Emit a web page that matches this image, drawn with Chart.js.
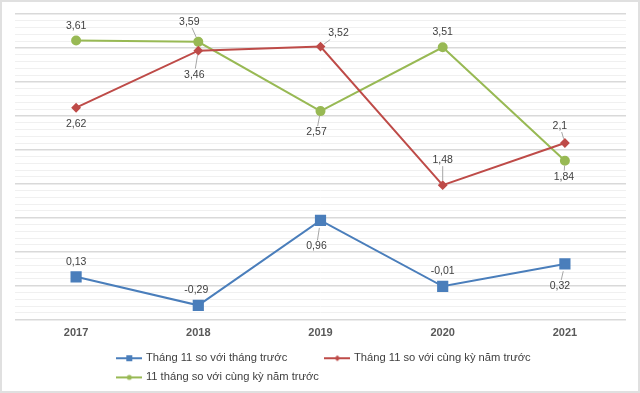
<!DOCTYPE html>
<html>
<head>
<meta charset="utf-8">
<script src="https://cdn.jsdelivr.net/npm/chart.js@4/dist/chart.umd.min.js"></script>
<style>
  html, body { margin: 0; padding: 0; background: #ffffff; }
  #wrap { width: 636px; height: 389px; border: 2px solid #e0e0e0; position: relative; }
</style>
</head>
<body>
<div id="wrap"><canvas id="chart"></canvas></div>
<script>
var years = ['2017', '2018', '2019', '2020', '2021'];
var seriesNames = ['Tháng 11 so với tháng trước', 'Tháng 11 so với cùng kỳ năm trước', '11 tháng so với cùng kỳ năm trước'];
var thangTruoc = [0.13, -0.29, 0.96, -0.01, 0.32];
var cungKyThang11 = [2.62, 3.46, 3.52, 1.48, 2.1];
var cungKy11Thang = [3.61, 3.59, 2.57, 3.51, 1.84];

// label placement relative to the point [dx, dy, leader line?]
var blueLabelPos = [[0, -15, 0], [-2, -15, 0], [-4, 26, 1], [0, -15, 0], [-5, 22, 1]];
var redLabelPos = [[0, 16, 0], [-4, 24, 1], [18, -13, 1], [0, -25, 1], [-5, -17, 1]];
var greenLabelPos = [[0, -14, 0], [-9, -20, 1], [-4, 21, 1], [0, -15, 0], [-1, 16, 1]];

var colors = ['#4a7ebb', '#be4b48', '#98b954'];
var fontFamily = '"Liberation Sans", Arial, sans-serif';
Chart.defaults.font.family = fontFamily;

// small line + marker icons for the legend
function makeIcon(color, shape) {
  var c = document.createElement('canvas');
  c.width = 26;
  c.height = 10;
  var g = c.getContext('2d');
  g.strokeStyle = color;
  g.fillStyle = color;
  g.lineWidth = 2;
  g.beginPath();
  g.moveTo(0, 5);
  g.lineTo(26, 5);
  g.stroke();
  g.beginPath();
  if (shape === 'rect') {
    g.rect(10, 2, 6, 6);
  } else if (shape === 'diamond') {
    g.moveTo(13, 2); g.lineTo(16, 5); g.lineTo(13, 8); g.lineTo(10, 5); g.closePath();
  } else {
    g.arc(13, 5, 2.5, 0, Math.PI * 2);
  }
  g.fill();
  return c;
}
var legendIcons = [makeIcon(colors[0], 'rect'), makeIcon(colors[1], 'diamond'), makeIcon(colors[2], 'circle')];
var legendSpacing = ['          ', '', '      '];

function isMajor(v) {
  return Math.abs(v * 2 - Math.round(v * 2)) < 1e-6;
}

function fmt(v) {
  return String(v).replace('.', ',');
}

var valueLabels = {
  id: 'valueLabels',
  afterDatasetsDraw: function (chart) {
    var ctx = chart.ctx;
    ctx.save();
    ctx.font = '10.5px ' + fontFamily;
    ctx.textAlign = 'center';
    ctx.textBaseline = 'middle';
    chart.data.datasets.forEach(function (ds, i) {
      var meta = chart.getDatasetMeta(i);
      meta.data.forEach(function (pt, j) {
        var text = fmt(ds.data[j]);
        var pos = ds.labelPos[j];
        var lx = pt.x + pos[0], ly = pt.y + pos[1];
        ctx.fillStyle = '#404040';
        ctx.fillText(text, lx, ly);
        if (pos[2]) {
          var vx = pt.x - lx, vy = pt.y - ly;
          var len = Math.sqrt(vx * vx + vy * vy);
          var hw = ctx.measureText(text).width / 2 + 1, hh = 6;
          var t0 = Math.min(vx ? hw / Math.abs(vx) : 1, vy ? hh / Math.abs(vy) : 1);
          var t1 = 1 - (ds.pointRadius + 1) / len;
          if (t1 > t0) {
            ctx.strokeStyle = '#a6a6a6';
            ctx.lineWidth = 1;
            ctx.beginPath();
            ctx.moveTo(lx + vx * t0, ly + vy * t0);
            ctx.lineTo(lx + vx * t1, ly + vy * t1);
            ctx.stroke();
          }
        }
      });
    });
    ctx.restore();
  }
};

// keep legend rows left aligned with each other (and nudge them right a bit)
var legendRows = {
  id: 'legendRows',
  beforeDraw: function (chart) {
    var lw = chart.legend && chart.legend.lineWidths;
    if (lw && lw.length) {
      var first = chart.legend._rowWidth || lw[0];
      chart.legend._rowWidth = first;
      for (var k = 0; k < lw.length; k++) lw[k] = first - 8;
    }
  },
  afterUpdate: function (chart) {
    if (chart.legend) chart.legend._rowWidth = null;
  }
};

new Chart(document.getElementById('chart'), {
  type: 'line',
  data: {
    labels: years,
    datasets: [{
      label: seriesNames[0],
      data: thangTruoc,
      borderColor: colors[0],
      backgroundColor: colors[0],
      borderWidth: 2,
      pointStyle: 'rect',
      pointRadius: 6.5,
      pointHoverRadius: 6.5,
      tension: 0,
      labelPos: blueLabelPos
    }, {
      label: seriesNames[1],
      data: cungKyThang11,
      borderColor: colors[1],
      backgroundColor: colors[1],
      borderWidth: 2,
      pointStyle: 'rectRot',
      pointRadius: 3.5,
      pointHoverRadius: 3.5,
      tension: 0,
      labelPos: redLabelPos
    }, {
      label: seriesNames[2],
      data: cungKy11Thang,
      borderColor: colors[2],
      backgroundColor: colors[2],
      borderWidth: 2,
      pointStyle: 'circle',
      pointRadius: 4,
      pointHoverRadius: 4,
      tension: 0,
      labelPos: greenLabelPos
    }]
  },
  options: {
    responsive: true,
    maintainAspectRatio: false,
    animation: false,
    layout: {
      padding: { left: 13, right: 12, top: 12, bottom: -2 }
    },
    scales: {
      x: {
        offset: true,
        grid: { display: false, drawTicks: false },
        border: { display: false },
        ticks: {
          padding: 7,
          color: '#595959',
          font: { size: 11, weight: 'bold' }
        },
        afterFit: function (scale) { scale.height = 25; }
      },
      y: {
        min: -0.5,
        max: 4,
        border: { display: false },
        grid: {
          drawTicks: false,
          color: function (c) { return isMajor(c.tick.value) ? '#d9d9d9' : '#f0f0f0'; },
          lineWidth: function (c) { return isMajor(c.tick.value) ? 1.5 : 1; }
        },
        ticks: { display: false, stepSize: 0.1, maxTicksLimit: 100 }
      }
    },
    plugins: {
      tooltip: { enabled: false },
      legend: {
        position: 'bottom',
        labels: {
          usePointStyle: true,
          pointStyleWidth: 22,
          padding: 8,
          color: '#404040',
          font: { size: 11.2 },
          generateLabels: function (chart) {
            var items = Chart.defaults.plugins.legend.labels.generateLabels(chart);
            items.forEach(function (item, i) {
              item.pointStyle = legendIcons[i];
              item.text = seriesNames[i] + legendSpacing[i];
            });
            return items;
          }
        }
      }
    }
  },
  plugins: [valueLabels, legendRows]
});
</script>
</body>
</html>
